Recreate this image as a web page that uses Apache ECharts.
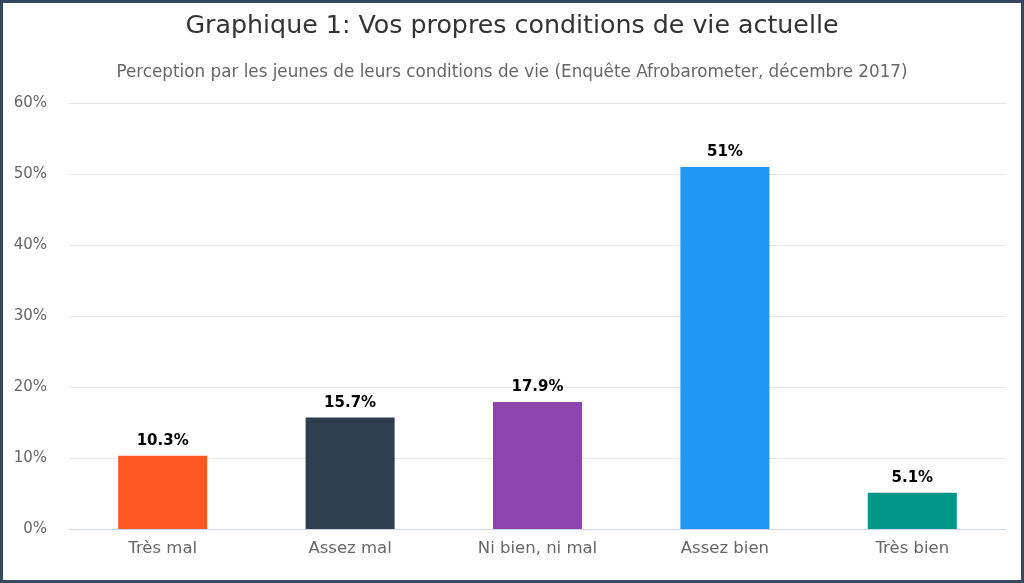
<!DOCTYPE html>
<html lang="fr">
<head>
  <meta charset="utf-8">
  <title>Graphique 1</title>
  <script src="https://cdn.jsdelivr.net/npm/echarts@6/dist/echarts.min.js"></script>
  <style>
    * { box-sizing: border-box; }
    html, body { margin: 0; padding: 0; background: #fff; }
    #chart { width: 1024px; height: 583px; border: 3px solid #34495e; }
  </style>
</head>
<body>
  <div id="chart"></div>
  <script>
    // données
    var categories = ['Très mal', 'Assez mal', 'Ni bien, ni mal', 'Assez bien', 'Très bien'];
    var values = [10.3, 15.7, 17.9, 51, 5.1];
    var colors = ['#ff5722', '#2c3e50', '#8e44ad', '#2196f3', '#009688'];
    var yTicks = [0, 10, 20, 30, 40, 50, 60];

    var font = '"DejaVu Sans"';
    var chart = echarts.init(document.getElementById('chart'));
    chart.setOption({
      animation: false,
      textStyle: { fontFamily: font },
      title: [
        { text: 'Graphique 1: Vos propres conditions de vie actuelle', left: 'center', top: 6,
          textStyle: { fontFamily: font, fontSize: 25.3, fontWeight: 'normal', color: '#333' } },
        { text: 'Perception par les jeunes de leurs conditions de vie (Enquête Afrobarometer, décembre 2017)',
          left: 'center', top: 56,
          textStyle: { fontFamily: font, fontSize: 16.8, fontWeight: 'normal', color: '#666' } }
      ],
      grid: { left: 66, right: 15, top: 100, bottom: 51 },
      xAxis: {
        type: 'category',
        data: categories,
        axisTick: { show: false },
        axisLine: { lineStyle: { color: '#ccd6eb' } },
        axisLabel: { color: '#666', fontSize: 16.5, margin: 11, fontFamily: font }
      },
      yAxis: {
        type: 'value',
        min: yTicks[0],
        max: yTicks[yTicks.length - 1],
        interval: 10,
        axisLabel: { color: '#666', fontSize: 15, formatter: '{value}%', margin: 22, fontFamily: font },
        splitLine: { lineStyle: { color: '#e6e6e6' } },
        axisLine: { show: false },
        axisTick: { show: false }
      },
      series: [{
        type: 'bar',
        barWidth: '47.5%',
        data: values.map(function (v, i) {
          return { value: v, itemStyle: { color: colors[i] } };
        }),
        label: {
          show: true,
          position: 'top',
          distance: 7,
          formatter: '{c}%',
          color: '#000',
          fontWeight: 'bold',
          fontSize: 15,
          fontFamily: font
        }
      }]
    });
  </script>
</body>
</html>
